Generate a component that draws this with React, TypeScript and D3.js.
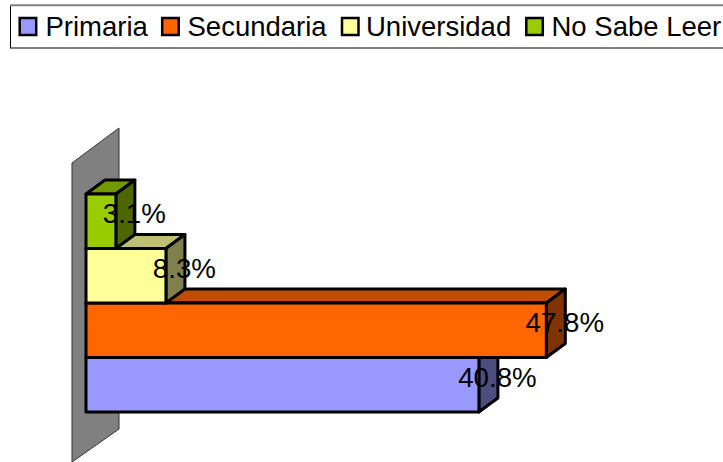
// App.tsx
import React from 'react';
import * as d3 from 'd3';

const categories = ['Primaria', 'Secundaria', 'Universidad', 'No Sabe Leer'];
const values = [40.8, 47.8, 8.3, 3.1];
const frontColors = ['#9999ff', '#ff6600', '#ffff99', '#99cc00'];
const topColors = ['#7373bf', '#bf4d00', '#bfbf73', '#739900'];
const sideColors = ['#4d4d80', '#803300', '#80804d', '#4d6600'];
const legendSwatchX = [19.7, 162.2, 342, 526.3];
const legendTextX = [45.5, 187.5, 366, 551.5];

const depthX = 19;
const depthY = -14;

const App = () => {
  const xScale = d3.scaleLinear().domain([0, 50]).range([86, 567.5]);
  const yScale = d3.scaleBand().domain(categories).range([412, 194]);
  const line = d3.line();

  return (
    <svg
      width={723}
      height={462}
      style={{ position: 'absolute', left: 0, top: 0, background: 'white', fontFamily: '"Liberation Sans", Arial, sans-serif' }}
    >
      {/* legend box runs off the right edge */}
      <rect x={10.5} y={5.5} width={730} height={42.5} fill="white" stroke="#000" strokeWidth={1} />
      <line x1={10} x2={723} y1={5.2} y2={5.2} stroke="#808080" strokeWidth={2} />
      {categories.map((c, i) => (
        <g key={c}>
          <rect x={legendSwatchX[i]} y={18} width={16.5} height={17} fill={frontColors[i]} stroke="#000" strokeWidth={2.5} />
          <text x={legendTextX[i]} y={36} fontSize={27.5}>{c}</text>
        </g>
      ))}

      {/* back wall */}
      <path
        d={line([[72, 163], [119, 128], [119, 429], [72, 462]]) + 'Z'}
        fill="#808080"
        stroke="#333"
        strokeWidth={1}
      />

      {/* bars, bottom one first so the upper ones sit on top */}
      {categories.map((c, i) => {
        const x0 = xScale(0);
        const x1 = xScale(values[i]);
        const y0 = yScale(c) as number;
        const y1 = y0 + yScale.bandwidth();
        return (
          <g key={c} stroke="#000" strokeWidth={3} strokeLinejoin="round">
            <path
              d={line([[x0, y0], [x0 + depthX, y0 + depthY], [x1 + depthX, y0 + depthY], [x1, y0]]) + 'Z'}
              fill={topColors[i]}
            />
            <path
              d={line([[x1, y0], [x1 + depthX, y0 + depthY], [x1 + depthX, y1 + depthY], [x1, y1]]) + 'Z'}
              fill={sideColors[i]}
            />
            <rect x={x0} y={y0} width={x1 - x0} height={y1 - y0} fill={frontColors[i]} />
          </g>
        );
      })}

      {/* value labels */}
      {categories.map((c, i) => (
        <text
          key={c}
          x={xScale(values[i]) + depthX - 0.5}
          y={(yScale(c) as number) + yScale.bandwidth() / 2 + 2}
          fontSize={27.7}
          textAnchor="middle"
        >
          {values[i].toFixed(1)}%
        </text>
      ))}
    </svg>
  );
};

export default App;
